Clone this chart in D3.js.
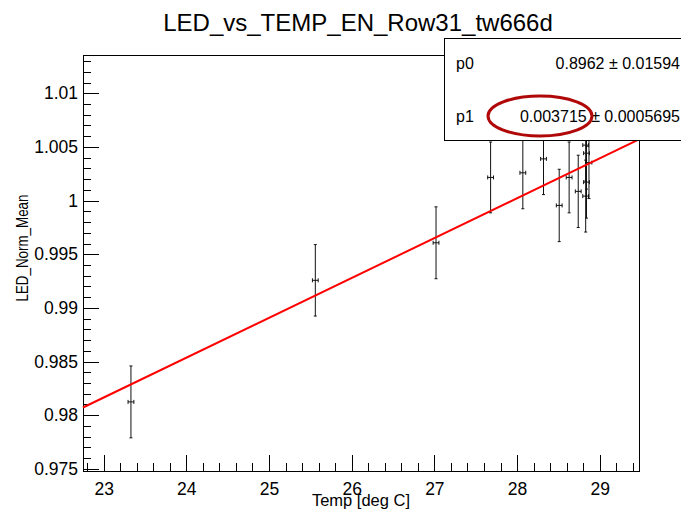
<!DOCTYPE html>
<html>
<head>
<meta charset="utf-8">
<script src="https://cdn.jsdelivr.net/npm/d3@7"></script>
<style>
	body { margin: 0; background: #fff; }
	svg { display: block; font-family: "Liberation Sans", Arial, Helvetica, sans-serif; }
</style>
</head>
<body>
<svg id="chart" width="681" height="510"></svg>
<script>
// values
let temps = [23.33, 25.56, 27.02, 27.68, 28.07, 28.32, 28.51, 28.63, 28.74, 28.83, 28.84, 28.87, 28.84, 28.83];
let means = [0.98124, 0.99257, 0.99607, 1.00216, 1.00259, 1.00389, 0.99955, 1.00216, 1.00086, 1.00517, 1.00442, 1.00354, 1.00172, 1.00042];
let meanErr = [0.00335, 0.00333, 0.00335, 0.00330, 0.00335, 0.00333, 0.00337, 0.00330, 0.00337, 0.00335, 0.00335, 0.00335, 0.00335, 0.00335];
let tempErr = [0.035, 0.035, 0.035, 0.035, 0.035, 0.035, 0.035, 0.035, 0.035, 0.035, 0.035, 0.035, 0.035, 0.035];

let fitNames = ["p0", "p1"];
let fitValues = [0.8962, 0.003715];
let fitErrors = ["0.01594", "0.0005695"];
let fitLabels = ["0.8962", "0.003715"];

let yMajor = [0.975, 0.98, 0.985, 0.99, 0.995, 1, 1.005, 1.01];
let xMajor = [23, 24, 25, 26, 27, 28, 29];

let frame = { left: 83, right: 639, top: 55, bottom: 471 };

let x = d3.scaleLinear().domain([22.75, 29.475]).range([frame.left, frame.right]);
let y = d3.scaleLinear().domain([0.9748, 1.01357]).range([frame.bottom, frame.top]);

let svg = d3.select("#chart");

// minor ticks (every 0.2 deg, every 0.001)
let xMinor = d3.range(22.8, 29.45, 0.2).filter(v => !xMajor.some(m => Math.abs(m - v) < 1e-6));
let yMinor = d3.range(0.975, 1.0135, 0.001).filter(v => !yMajor.some(m => Math.abs(m - v) < 1e-6));

svg.append("g")
	.attr("transform", "translate(0," + frame.bottom + ")")
	.call(d3.axisBottom(x).tickValues(xMinor).tickSizeInner(-8).tickSizeOuter(0).tickFormat(""))
	.call(g => g.select(".domain").remove());

svg.append("g")
	.attr("transform", "translate(" + frame.left + ",0)")
	.call(d3.axisLeft(y).tickValues(yMinor).tickSizeInner(-8).tickSizeOuter(0).tickFormat(""))
	.call(g => g.select(".domain").remove());

let xAxis = svg.append("g")
	.attr("transform", "translate(0," + frame.bottom + ")")
	.call(d3.axisBottom(x).tickValues(xMajor).tickSizeInner(-16).tickSizeOuter(0).tickPadding(12).tickFormat(d3.format("d")));
xAxis.select(".domain").remove();

let yAxis = svg.append("g")
	.attr("transform", "translate(" + frame.left + ",0)")
	.call(d3.axisLeft(y).tickValues(yMajor).tickSizeInner(-16).tickSizeOuter(0).tickPadding(5).tickFormat(d => String(+d.toFixed(3))));
yAxis.select(".domain").remove();

svg.selectAll(".tick text").attr("font-family", null).attr("font-size", 17.5).attr("fill", "#000");
svg.selectAll(".tick line").attr("stroke", "#000").attr("shape-rendering", "crispEdges");

// frame
svg.append("rect")
	.attr("x", frame.left).attr("y", frame.top)
	.attr("width", frame.right - frame.left).attr("height", frame.bottom - frame.top)
	.attr("fill", "none").attr("stroke", "#000").attr("stroke-width", 1)
	.attr("shape-rendering", "crispEdges");

// points with error bars
let pts = svg.append("g").attr("stroke", "#111").attr("stroke-width", 1);
temps.forEach(function(t, i) {
	let cx = x(t), cy = y(means[i]);
	let y0 = y(means[i] - meanErr[i]), y1 = y(means[i] + meanErr[i]);
	let x0 = x(t - tempErr[i]), x1 = x(t + tempErr[i]);
	pts.append("line").attr("x1", cx).attr("x2", cx).attr("y1", y0).attr("y2", y1);
	pts.append("line").attr("x1", cx - 1.5).attr("x2", cx + 1.5).attr("y1", y0).attr("y2", y0);
	pts.append("line").attr("x1", cx - 1.5).attr("x2", cx + 1.5).attr("y1", y1).attr("y2", y1);
	pts.append("line").attr("x1", x0).attr("x2", x1).attr("y1", cy).attr("y2", cy);
	pts.append("line").attr("x1", x0).attr("x2", x0).attr("y1", cy - 2).attr("y2", cy + 2);
	pts.append("line").attr("x1", x1).attr("x2", x1).attr("y1", cy - 2).attr("y2", cy + 2);
});

// fit line p0 + p1*T
let fitLine = d3.line().x(d => x(d)).y(d => y(fitValues[0] + fitValues[1] * d));
svg.append("path")
	.attr("d", fitLine(x.domain()))
	.attr("fill", "none").attr("stroke", "#ff0000").attr("stroke-width", 2);

// title
svg.append("text")
	.attr("x", 358).attr("y", 31)
	.attr("text-anchor", "middle").attr("font-size", 24)
	.text("LED_vs_TEMP_EN_Row31_tw666d");

// axis titles
svg.append("text")
	.attr("x", (frame.left + frame.right) / 2).attr("y", 506)
	.attr("text-anchor", "middle").attr("font-size", 16.5)
	.text("Temp [deg C]");

svg.append("text")
	.attr("transform", "translate(28,248) rotate(-90)")
	.attr("text-anchor", "middle").attr("font-size", 16)
	.attr("textLength", 107).attr("lengthAdjust", "spacingAndGlyphs")
	.text("LED_Norm_Mean");

// stats box
let box = svg.append("g");
box.append("rect")
	.attr("x", 444.5).attr("y", 38.5).attr("width", 260).attr("height", 102)
	.attr("fill", "#fff").attr("stroke", "#000").attr("stroke-width", 1);
fitNames.forEach(function(n, i) {
	let by = 69 + i * 53;
	box.append("text").attr("x", 456).attr("y", by).attr("font-size", 16).text(n);
	box.append("text").attr("x", 680).attr("y", by).attr("font-size", 16)
		.attr("text-anchor", "end")
		.text(fitLabels[i] + " \u00b1 " + fitErrors[i]);
});

// highlight around p1 value
box.append("ellipse")
	.attr("cx", 540).attr("cy", 116).attr("rx", 52).attr("ry", 20)
	.attr("fill", "none").attr("stroke", "#b00808").attr("stroke-width", 3);
</script>
</body>
</html>
